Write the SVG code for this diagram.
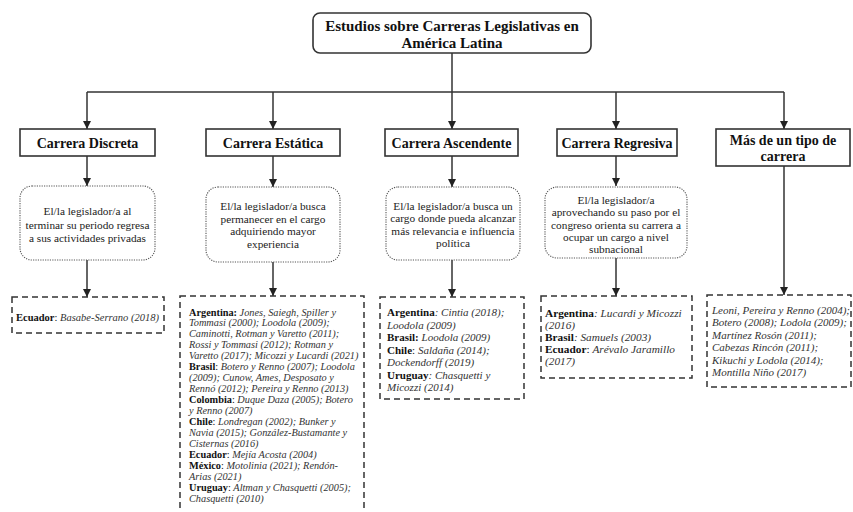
<svg xmlns="http://www.w3.org/2000/svg" width="853" height="512" viewBox="0 0 853 512" font-family="'Liberation Serif', Tinos, 'Times New Roman', 'DejaVu Serif', serif">
<style>
text{font-family:'Liberation Serif',Tinos,'Times New Roman','DejaVu Serif',serif;fill:#111}
.title{font-size:15px;font-weight:bold;text-anchor:middle}
.hdr{font-size:14px;font-weight:bold;text-anchor:middle}
.hbox{fill:#fff;stroke:#333;stroke-width:1.6}
.dbox{fill:#fff;stroke:#555;stroke-width:1.1;stroke-dasharray:1.2 1.2}
.dtxt{font-size:11.3px;text-anchor:middle;fill:#222}
.rbox{fill:#fff;stroke:#333;stroke-width:1.5;stroke-dasharray:6 4}
.b{font-weight:bold;font-style:normal;fill:#111}
.i{font-style:italic;fill:#333}
.conn path{fill:none;stroke:#333;stroke-width:1.5}
</style>
<defs>
<marker id="ah" markerUnits="userSpaceOnUse" markerWidth="9" markerHeight="9" refX="8" refY="4" orient="auto">
<path d="M0,0 L8,4 L0,8 z" fill="#222"/>
</marker>
</defs>
<rect width="853" height="512" fill="#fff"/>

<g class="conn" id="connectors">
<path d="M452,53 V92"/>
<path d="M87,92 H784"/>
<path d="M87,92 V129" marker-end="url(#ah)"/>
<path d="M273,92 V129" marker-end="url(#ah)"/>
<path d="M452,92 V129" marker-end="url(#ah)"/>
<path d="M616,92 V129" marker-end="url(#ah)"/>
<path d="M784,92 V129" marker-end="url(#ah)"/>
<path d="M87,156 V186" marker-end="url(#ah)"/>
<path d="M273,156 V187" marker-end="url(#ah)"/>
<path d="M452,156 V187" marker-end="url(#ah)"/>
<path d="M616,156 V186" marker-end="url(#ah)"/>
<path d="M87,260 V297" marker-end="url(#ah)"/>
<path d="M273,262 V296" marker-end="url(#ah)"/>
<path d="M452,260 V297" marker-end="url(#ah)"/>
<path d="M616,258 V296" marker-end="url(#ah)"/>
<path d="M784,166 V295" marker-end="url(#ah)"/>
</g>

<g id="title">
<rect x="313" y="13" width="278" height="40" rx="7" fill="#fff" stroke="#333" stroke-width="1.6"/>
<text class="title" x="452" y="31">Estudios sobre Carreras Legislativas en</text>
<text class="title" x="452" y="48">América Latina</text>
</g>

<g id="h-discreta">
<rect class="hbox" x="20" y="129" width="135" height="27"/>
<text class="hdr" x="87.5" y="147.5">Carrera Discreta</text>
</g>
<g id="h-estatica">
<rect class="hbox" x="206" y="129" width="134" height="27"/>
<text class="hdr" x="273" y="147.5">Carrera Estática</text>
</g>
<g id="h-ascendente">
<rect class="hbox" x="385" y="129" width="133" height="27"/>
<text class="hdr" x="451.5" y="147.5">Carrera Ascendente</text>
</g>
<g id="h-regresiva">
<rect class="hbox" x="557" y="129" width="120" height="27"/>
<text class="hdr" x="617" y="147.5">Carrera Regresiva</text>
</g>
<g id="h-mas">
<rect class="hbox" x="716" y="129" width="134" height="37"/>
<text class="hdr" x="783" y="145">Más de un tipo de</text>
<text class="hdr" x="783" y="161">carrera</text>
</g>

<g id="d-discreta">
<rect class="dbox" x="20" y="186" width="135" height="74" rx="12"/>
<text class="dtxt" x="87.5" y="215">El/la legislador/a al</text>
<text class="dtxt" x="87.5" y="228.5">terminar su periodo regresa</text>
<text class="dtxt" x="87.5" y="242">a sus actividades privadas</text>
</g>
<g id="d-estatica">
<rect class="dbox" x="206" y="187" width="134" height="75" rx="12"/>
<text class="dtxt" x="273" y="210">El/la legislador/a busca</text>
<text class="dtxt" x="273" y="222.5">permanecer en el cargo</text>
<text class="dtxt" x="273" y="235">adquiriendo mayor</text>
<text class="dtxt" x="273" y="247.5">experiencia</text>
</g>
<g id="d-ascendente">
<rect class="dbox" x="386" y="187" width="134" height="73" rx="12"/>
<text class="dtxt" x="453" y="210">El/la legislador/a busca un</text>
<text class="dtxt" x="453" y="222.3">cargo donde pueda alcanzar</text>
<text class="dtxt" x="453" y="234.6">más relevancia e influencia</text>
<text class="dtxt" x="453" y="246.9">política</text>
</g>
<g id="d-regresiva">
<rect class="dbox" x="545" y="187" width="142" height="71" rx="12"/>
<text class="dtxt" x="616" y="204">El/la legislador/a</text>
<text class="dtxt" x="616" y="216.3">aprovechando su paso por el</text>
<text class="dtxt" x="616" y="228.6">congreso orienta su carrera a</text>
<text class="dtxt" x="616" y="240.9">ocupar un cargo a nivel</text>
<text class="dtxt" x="616" y="253.2">subnacional</text>
</g>

<g id="r-discreta">
<rect class="rbox" x="12" y="297" width="152" height="36"/>
<text x="16" y="321" font-size="10.5"><tspan class="b">Ecuador</tspan>: <tspan class="i">Basabe-Serrano (2018)</tspan></text>
</g>

<g id="r-estatica" font-size="10.3">
<rect class="rbox" x="180" y="296" width="184" height="222"/>
<text x="189" y="315.5"><tspan class="b">Argentina:</tspan><tspan class="i"> Jones, Saiegh, Spiller y</tspan></text>
<text x="189" y="326.4" class="i">Tommasi (2000); Loodola (2009);</text>
<text x="189" y="337.4" class="i">Caminotti, Rotman y Varetto (2011);</text>
<text x="189" y="348.3" class="i">Rossi y Tommasi (2012); Rotman y</text>
<text x="189" y="359.3" class="i">Varetto (2017); Micozzi y Lucardi (2021)</text>
<text x="189" y="370.2"><tspan class="b">Brasil</tspan>: <tspan class="i">Botero y Renno (2007); Loodola</tspan></text>
<text x="189" y="381.1" class="i">(2009); Cunow, Ames, Desposato y</text>
<text x="189" y="392.1" class="i">Rennó (2012); Pereira y Renno (2013)</text>
<text x="189" y="403"><tspan class="b">Colombia</tspan>: <tspan class="i">Duque Daza (2005); Botero</tspan></text>
<text x="189" y="414" class="i">y Renno (2007)</text>
<text x="189" y="424.9"><tspan class="b">Chile</tspan>: <tspan class="i">Londregan (2002); Bunker y</tspan></text>
<text x="189" y="435.8" class="i">Navia (2015); González-Bustamante y</text>
<text x="189" y="446.8" class="i">Cisternas (2016)</text>
<text x="189" y="457.7"><tspan class="b">Ecuador</tspan>: <tspan class="i">Mejía Acosta (2004)</tspan></text>
<text x="189" y="468.7"><tspan class="b">México</tspan>: <tspan class="i">Motolinia (2021); Rendón-</tspan></text>
<text x="189" y="479.6" class="i">Arias (2021)</text>
<text x="189" y="490.6"><tspan class="b">Uruguay</tspan>: <tspan class="i">Altman y Chasquetti (2005);</tspan></text>
<text x="189" y="501.5" class="i">Chasquetti (2010)</text>
</g>

<g id="r-ascendente" font-size="11">
<rect class="rbox" x="380" y="297" width="144" height="102"/>
<text x="387" y="316"><tspan class="b">Argentina</tspan><tspan class="i">: Cintia (2018);</tspan></text>
<text x="387" y="328.5" class="i">Loodola (2009)</text>
<text x="387" y="341"><tspan class="b">Brasil:</tspan><tspan class="i"> Loodola (2009)</tspan></text>
<text x="387" y="353.5"><tspan class="b">Chile</tspan>: <tspan class="i">Saldaña (2014);</tspan></text>
<text x="387" y="366" class="i">Dockendorff (2019)</text>
<text x="387" y="378.5"><tspan class="b">Uruguay</tspan><tspan class="i">: Chasquetti y</tspan></text>
<text x="387" y="391" class="i">Micozzi (2014)</text>
</g>

<g id="r-regresiva" font-size="11.3">
<rect class="rbox" x="541" y="296" width="151" height="82"/>
<text x="545" y="317"><tspan class="b">Argentina</tspan><tspan class="i">: Lucardi y Micozzi</tspan></text>
<text x="545" y="329" class="i">(2016)</text>
<text x="545" y="341"><tspan class="b">Brasil</tspan><tspan class="i">: Samuels (2003)</tspan></text>
<text x="545" y="353"><tspan class="b">Ecuador</tspan>: <tspan class="i">Arévalo Jaramillo</tspan></text>
<text x="545" y="365" class="i">(2017)</text>
</g>

<g id="r-mas" font-size="11">
<rect class="rbox" x="707" y="295" width="144" height="92"/>
<text x="712" y="314" class="i">Leoni, Pereira y Renno (2004);</text>
<text x="712" y="326.4" class="i">Botero (2008); Lodola (2009);</text>
<text x="712" y="338.8" class="i">Martínez Rosón (2011);</text>
<text x="712" y="351.2" class="i">Cabezas Rincón (2011);</text>
<text x="712" y="363.6" class="i">Kikuchi y Lodola (2014);</text>
<text x="712" y="376" class="i">Montilla Niño (2017)</text>
</g>
</svg>
